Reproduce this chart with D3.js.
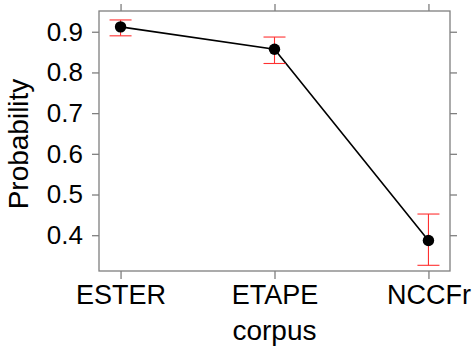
<!DOCTYPE html>
<html>
<head>
<meta charset="utf-8">
<script src="https://cdn.jsdelivr.net/npm/d3@7"></script>
<style>
  body { margin: 0; background: #fff; }
  text { font-family: "Liberation Sans", Arial, sans-serif; fill: #000; }
</style>
</head>
<body>
<svg width="473" height="349"></svg>
<script>
var corpora = ["ESTER", "ETAPE", "NCCFr"];
var prob = [0.912, 0.857, 0.387];
var lower = [0.890, 0.822, 0.326];
var upper = [0.929, 0.887, 0.452];
var yTicks = [0.4, 0.5, 0.6, 0.7, 0.8, 0.9];

var svg = d3.select("svg"),
  margin = { left: 99, right: 23, top: 11, bottom: 78 },
  width = svg.attr("width") - margin.left - margin.right,
  height = svg.attr("height") - margin.top - margin.bottom,
  g = svg.append("g")
    .attr("transform", "translate(" + margin.left + "," + margin.top + ")");

var x = d3.scaleLinear().domain([-0.14, 2.14]).range([0, width]);
var y = d3.scaleLinear().domain([0.312, 0.951]).range([height, 0]);

var frame = "#7f7f7f";

// panel box
g.append("rect")
  .attr("width", width)
  .attr("height", height)
  .attr("fill", "none")
  .attr("stroke", frame)
  .attr("stroke-width", 1.3);

var idx = corpora.map((d, i) => i);

// axes: labels on left/bottom, bare ticks on top/right
var axLeft = g.append("g")
  .call(d3.axisLeft(y).tickValues(yTicks).tickSize(7).tickPadding(9).tickFormat(d3.format(".1f")));
var axBottom = g.append("g")
  .attr("transform", "translate(0," + height + ")")
  .call(d3.axisBottom(x).tickValues(idx).tickSize(8).tickPadding(6).tickFormat(i => corpora[i]));
var axRight = g.append("g")
  .attr("transform", "translate(" + width + ",0)")
  .call(d3.axisRight(y).tickValues(yTicks).tickSize(7).tickFormat(""));
var axTop = g.append("g")
  .call(d3.axisTop(x).tickValues(idx).tickSize(7).tickFormat(""));

[axLeft, axBottom, axRight, axTop].forEach(function(a) {
  a.select(".domain").remove();
  a.selectAll(".tick line").attr("stroke", frame).attr("stroke-width", 1.3);
  a.selectAll(".tick text").style("font-size", "26px").attr("fill", "#000");
});
axBottom.selectAll(".tick text").style("font-size", "27px");

// line
g.append("path")
  .datum(idx)
  .attr("fill", "none")
  .attr("stroke", "#000")
  .attr("stroke-width", 1.6)
  .attr("d", d3.line().x(i => x(i)).y(i => y(prob[i])));

// error bars
var cap = 11;
var eb = g.selectAll("g.eb")
  .data(idx)
  .enter()
  .append("g")
  .attr("class", "eb")
  .attr("stroke", "#ff3030")
  .attr("stroke-width", 1.1);
eb.append("line")
  .attr("x1", i => x(i)).attr("x2", i => x(i))
  .attr("y1", i => y(lower[i])).attr("y2", i => y(upper[i]));
eb.append("line")
  .attr("x1", i => x(i) - cap).attr("x2", i => x(i) + cap)
  .attr("y1", i => y(lower[i])).attr("y2", i => y(lower[i]));
eb.append("line")
  .attr("x1", i => x(i) - cap).attr("x2", i => x(i) + cap)
  .attr("y1", i => y(upper[i])).attr("y2", i => y(upper[i]));

// points
g.selectAll("circle.pt")
  .data(idx)
  .enter()
  .append("circle")
  .attr("class", "pt")
  .attr("cx", i => x(i))
  .attr("cy", i => y(prob[i]))
  .attr("r", 5.7)
  .attr("fill", "#000");

// axis titles
svg.append("text")
  .attr("text-anchor", "middle")
  .attr("x", margin.left + x(1))
  .attr("y", 340)
  .style("font-size", "28px")
  .text("corpus");

svg.append("text")
  .attr("text-anchor", "middle")
  .attr("transform", "translate(28,144)rotate(-90)")
  .style("font-size", "28px")
  .text("Probability");
</script>
</body>
</html>
